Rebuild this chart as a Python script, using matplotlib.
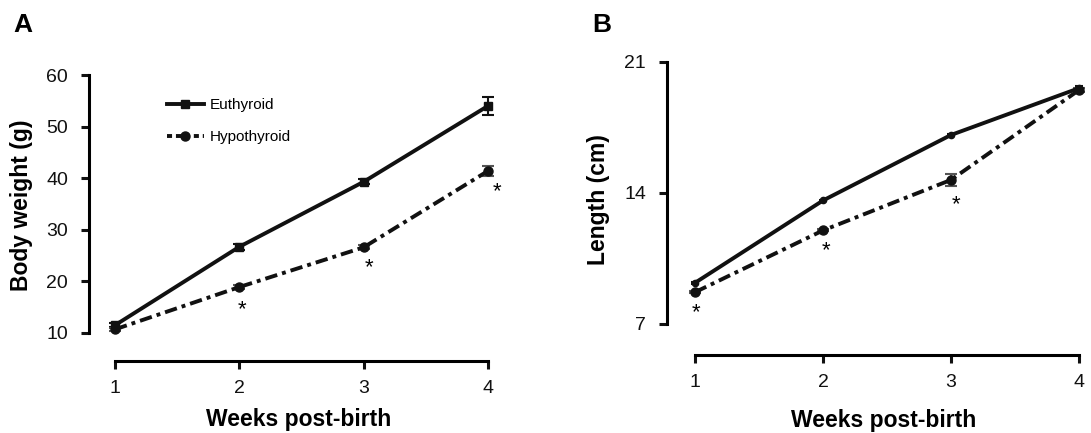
import numpy as np
import matplotlib
matplotlib.use("Agg")
import matplotlib.pyplot as plt
from matplotlib.lines import Line2D

plt.rcParams['font.family'] = ['Liberation Sans', 'DejaVu Sans']

weeks = [1, 2, 3, 4]
# panel A - body weight (g)
wt_eu = [11.5, 26.7, 39.3, 54.0]
wt_eu_err = [0.4, 0.6, 0.5, 1.8]
wt_hy = [10.7, 18.9, 26.6, 41.4]
wt_hy_err = [0.3, 0.4, 0.4, 1.0]
wt_star_x = [2.02, 3.04, 4.07]
wt_star_y = [14.6, 22.6, 37.3]
# panel B - length (cm)
len_eu = [9.2, 13.6, 17.1, 19.6]
len_eu_err = [0.05, 0.05, 0.05, 0.1]
len_hy = [8.7, 12.0, 14.7, 19.5]
len_hy_err = [0.05, 0.05, 0.3, 0.1]
len_star_x = [1.01, 2.02, 3.04]
len_star_y = [7.6, 10.9, 13.4]

lw = 2.8
dashdot = (0, (3.2, 1.3, 1.0, 1.3))
ink = '#111111'
fig = plt.figure(figsize=(10.91, 4.33), dpi=100)

def style(ax, yb, yt, ticks):
    for s in ['top', 'right']:
        ax.spines[s].set_visible(False)
    ax.spines['left'].set_linewidth(2.2)
    ax.spines['bottom'].set_linewidth(2.2)
    ax.spines['left'].set_bounds(yb, yt)
    ax.spines['bottom'].set_bounds(1, 4)
    ax.set_xticks(weeks)
    ax.set_yticks(ticks)
    ax.tick_params(width=2.2, length=6, labelsize=14, colors=ink)
    ax.tick_params(axis='x', pad=8)
    ax.tick_params(axis='y', pad=9)

# ---------------- A
axA = fig.add_axes([89/1091, 72/433, 411/1091, 286/433])
axA.errorbar(weeks, wt_eu, yerr=wt_eu_err, color=ink, lw=lw, marker='s', ms=6,
             capsize=4, elinewidth=1.5, capthick=1.5)
axA.errorbar(weeks, wt_hy, yerr=wt_hy_err, color=ink, lw=lw, ls=dashdot, marker='o', ms=6.5,
             ecolor='#555555', capsize=4, elinewidth=1.5, capthick=1.5)
for x, y in zip(wt_star_x, wt_star_y):
    axA.text(x, y, '*', fontsize=16, ha='center', va='center')
axA.set_xlim(0.791, 4.097)
axA.set_ylim(4.57, 60)
style(axA, 10, 60, [10, 20, 30, 40, 50, 60])
axA.set_xlabel('Weeks post-birth', fontsize=16.5, fontweight='bold')
axA.set_ylabel('Body weight (g)', fontsize=16.5, fontweight='bold')
axA.xaxis.set_label_coords(0.51, -0.164)
axA.yaxis.set_label_coords(-0.136, 0.545)
handles = [Line2D([], [], color=ink, lw=lw, marker='s', ms=6),
           Line2D([], [], color=ink, lw=lw, ls=(0, (1.3, 1.0)), marker='o', ms=6.5)]
axA.legend(handles, ['Euthyroid', 'Hypothyroid'], loc='upper left', bbox_to_anchor=(0.19, 0.92),
           frameon=False, fontsize=11, handlelength=2.4, handletextpad=0.4, labelspacing=1.2,
           borderpad=0, borderaxespad=0)

# ---------------- B
axB = fig.add_axes([667/1091, 78/433, 424/1091, 293/433])
axB.errorbar(weeks, len_eu, yerr=len_eu_err, color=ink, lw=lw, marker='o', ms=4.5,
             capsize=3, elinewidth=1.5, capthick=1.5)
axB.errorbar(weeks, len_hy, yerr=len_hy_err, color=ink, lw=lw, ls=dashdot, marker='o', ms=6.5,
             ecolor='#555555', capsize=4, elinewidth=1.5, capthick=1.5, clip_on=False)
for x, y in zip(len_star_x, len_star_y):
    axB.text(x, y, '*', fontsize=16, ha='center', va='center')
axB.set_xlim(0.781, 4.094)
axB.set_ylim(5.343, 21)
style(axB, 7, 21, [7, 14, 21])
axB.set_xlabel('Weeks post-birth', fontsize=16.5, fontweight='bold')
axB.set_ylabel('Length (cm)', fontsize=16.5, fontweight='bold')
axB.xaxis.set_label_coords(0.512, -0.184)
axB.yaxis.set_label_coords(-0.134, 0.532)

fig.text(13/1091, 1 - 32/433, 'A', fontsize=19, fontweight='bold', va='baseline')
fig.text(592/1091, 1 - 32/433, 'B', fontsize=19, fontweight='bold', va='baseline')

fig.savefig('out.png', dpi=100)
